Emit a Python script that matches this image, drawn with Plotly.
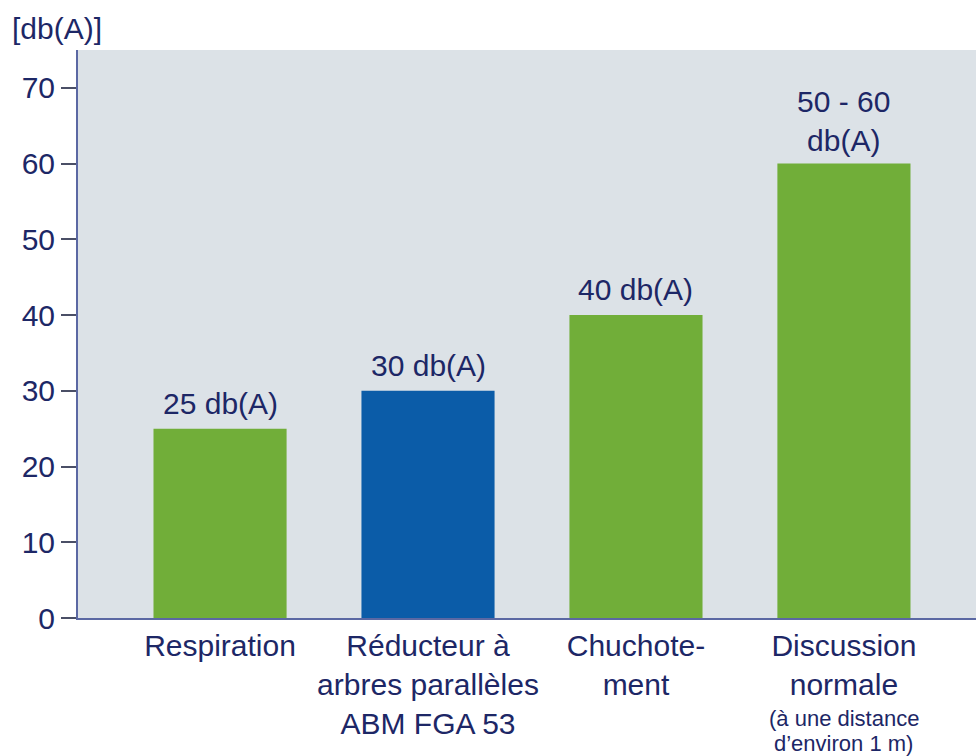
import plotly.graph_objects as go

categories = ["Respiration", "Réducteur", "Chuchotement", "Discussion"]
tick_labels = ["Respiration", "Réducteur à<br>arbres parallèles<br>ABM FGA 53",
               "Chuchote-<br>ment", "Discussion<br>normale"]
values = [25, 30, 40, 60]
value_labels = ["25 db(A)", "30 db(A)", "40 db(A)", "50 - 60<br>db(A)"]
bar_colors = ["#71ae39", "#0b5ca8", "#71ae39", "#71ae39"]
y_ticks = [0, 10, 20, 30, 40, 50, 60, 70]
unit_label = "[db(A)]"
note_lines = ["(à une distance", "d’environ 1 m)"]

FONT = "Liberation Sans, Arial, sans-serif"
TXT = "#1d2766"
AXIS = "#5b68a3"
TICK = "#4a4f66"
FS = 30

fig = go.Figure()
fig.add_trace(go.Bar(
    x=categories, y=values, marker=dict(color=bar_colors, line=dict(width=0)),
    width=0.64, showlegend=False, hoverinfo="skip",
))
# value labels
for c, v, t in zip(categories, values, value_labels):
    fig.add_annotation(x=c, y=v, text=t, showarrow=False, xref="x", yref="y",
                       yanchor="bottom", yshift=7 if "<br>" not in t else 5,
                       font=dict(family=FONT, size=FS, color=TXT))

for i, line in enumerate(note_lines):
    fig.add_annotation(x=categories[3], y=0, xref="x", yref="paper", text=line,
                       showarrow=False, yanchor="middle", yshift=-100 - 25 * i,
                       borderpad=0,
                       font=dict(family=FONT, size=22, color=TXT))
fig.add_annotation(x=0, y=1, xref="paper", yref="paper", text=unit_label,
                   showarrow=False, xanchor="left", yanchor="bottom",
                   xshift=-68, yshift=3,
                   font=dict(family=FONT, size=FS, color=TXT))

fig.update_layout(
    width=976, height=756,
    margin=dict(l=78, r=0, t=50, b=138),
    paper_bgcolor="white", plot_bgcolor="#dce2e7",
    font=dict(family=FONT, size=FS, color=TXT),
    xaxis=dict(range=[-0.683, 3.635], tickvals=categories, ticktext=tick_labels,
               showgrid=False, zeroline=False, showline=True, linecolor=AXIS,
               linewidth=2, ticks="", tickfont=dict(family=FONT, size=FS, color=TXT)),
    yaxis=dict(range=[0, 75], tickvals=y_ticks, showgrid=False, zeroline=False,
               showline=True, linecolor=AXIS, linewidth=2,
               ticks="outside", ticklen=15, tickcolor=TICK, tickwidth=1.5,
               tickfont=dict(family=FONT, size=FS, color=TXT)),
    yaxis2=dict(range=[0, 75], tickvals=y_ticks, overlaying="y", side="left",
                showgrid=False, zeroline=False, showline=False,
                ticks="inside", ticklen=15, tickcolor=TICK, tickwidth=1.5,
                showticklabels=False),
)
fig.write_html("out.html")
